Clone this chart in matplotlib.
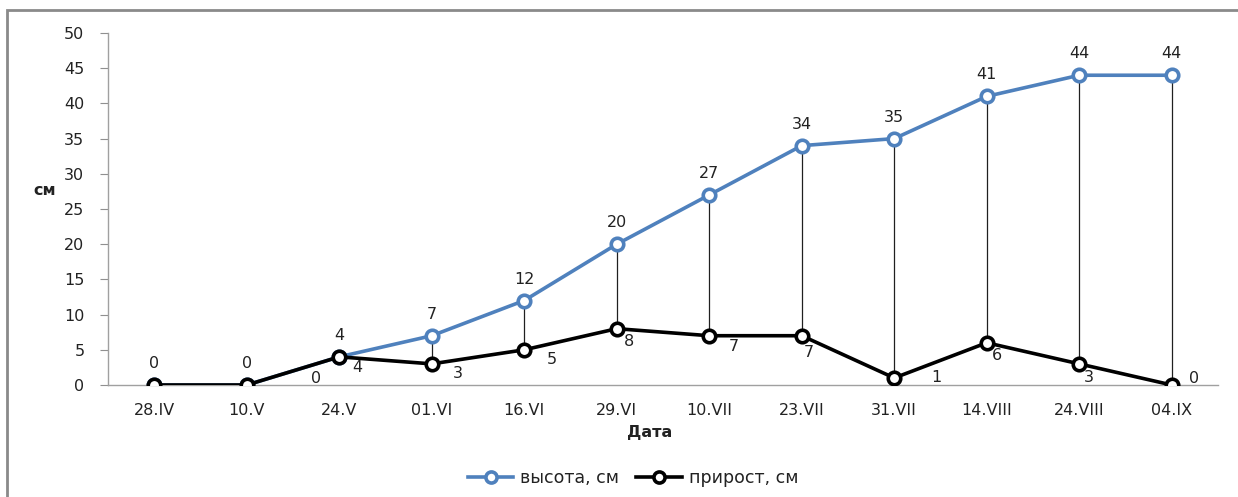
import matplotlib
matplotlib.use("Agg")
import matplotlib.pyplot as plt
from matplotlib.patches import Rectangle
from matplotlib.lines import Line2D

dates = ["28.IV", "10.V", "24.V", "01.VI", "16.VI", "29.VI",
         "10.VII", "23.VII", "31.VII", "14.VIII", "24.VIII", "04.IX"]
height_cm = [0, 0, 4, 7, 12, 20, 27, 34, 35, 41, 44, 44]
growth_cm = [0, 0, 4, 3, 5, 8, 7, 7, 1, 6, 3, 0]
y_ticks = [0, 5, 10, 15, 20, 25, 30, 35, 40, 45, 50]

# label offsets (points) for the growth series; None = no label
growth_label_offsets = [None, (50, 5), (13, -8), (19, -7), (20, -7), (9, -9),
                        (18, -8), (5, -12), (30, 0), (7, -9), (7, -10), (16, 5)]

BLUE = "#4F81BD"
TXT = "#222222"
FS = 11.5
plt.rcParams["font.family"] = ["DejaVu Sans"]

fig = plt.figure(figsize=(12.38, 4.97), dpi=100)
ax = fig.add_axes([108 / 1238, 112 / 497, 1110 / 1238, 352 / 497])

x = list(range(len(dates)))

# drop lines between the two series
ax.vlines(x, growth_cm, height_cm, color="#202020", lw=0.9, zorder=1)

ax.plot(x, height_cm, color=BLUE, lw=2.6, marker="o", ms=9, mfc="white",
        mec=BLUE, mew=2.6, zorder=2, label="высота, см")
ax.plot(x, growth_cm, color="black", lw=2.6, marker="o", ms=9, mfc="white",
        mec="black", mew=2.6, zorder=3, label="прирост, см")

for xi, v in zip(x, height_cm):
    ax.annotate(str(v), (xi, v), xytext=(0, 10), textcoords="offset points",
                ha="center", va="bottom", fontsize=FS, color=TXT)

for xi, v, off in zip(x, growth_cm, growth_label_offsets):
    if off is None:
        continue
    ax.annotate(str(v), (xi, v), xytext=off, textcoords="offset points",
                ha="center", va="center", fontsize=FS, color=TXT)

ax.set_xlim(-0.5, len(dates) - 0.5)
ax.set_ylim(0, 50)
ax.set_yticks(y_ticks)
ax.set_xticks(x)
ax.set_xticklabels(dates)
ax.tick_params(axis="y", length=6, color="#909090", labelsize=FS,
               labelcolor=TXT, pad=11)
ax.tick_params(axis="x", length=0, labelsize=FS, labelcolor=TXT, pad=13)
for s in ["top", "right"]:
    ax.spines[s].set_visible(False)
for s in ["left", "bottom"]:
    ax.spines[s].set_color("#a0a0a0")
    ax.spines[s].set_linewidth(1)

fig.text(45 / 1238, 1 - 190 / 497, "см", fontsize=FS, fontweight="bold",
         ha="center", va="center", color=TXT)
fig.text(650 / 1238, 1 - 432 / 497, "Дата", fontsize=FS, fontweight="bold",
         ha="center", va="center", color=TXT)

handles = [Line2D([], [], color=BLUE, lw=2.6, marker="o", ms=8, mfc="white",
                  mec=BLUE, mew=2.6),
           Line2D([], [], color="black", lw=2.6, marker="o", ms=8, mfc="white",
                  mec="black", mew=2.6)]
fig.legend(handles, ["высота, см", "прирост, см"], loc="center",
           bbox_to_anchor=(633 / 1238, 1 - 478 / 497), ncol=2, frameon=False,
           fontsize=12.5, handlelength=2.6, columnspacing=1.0,
           handletextpad=0.4, labelcolor=TXT)

# chart frame
fig.patches.append(Rectangle((7 / 1238, -0.1), 1.2, 1 - 10 / 497 + 0.1,
                             transform=fig.transFigure, fill=False,
                             edgecolor="#8a8a8a", lw=2))

fig.savefig("out.png", dpi=100, facecolor="white")
